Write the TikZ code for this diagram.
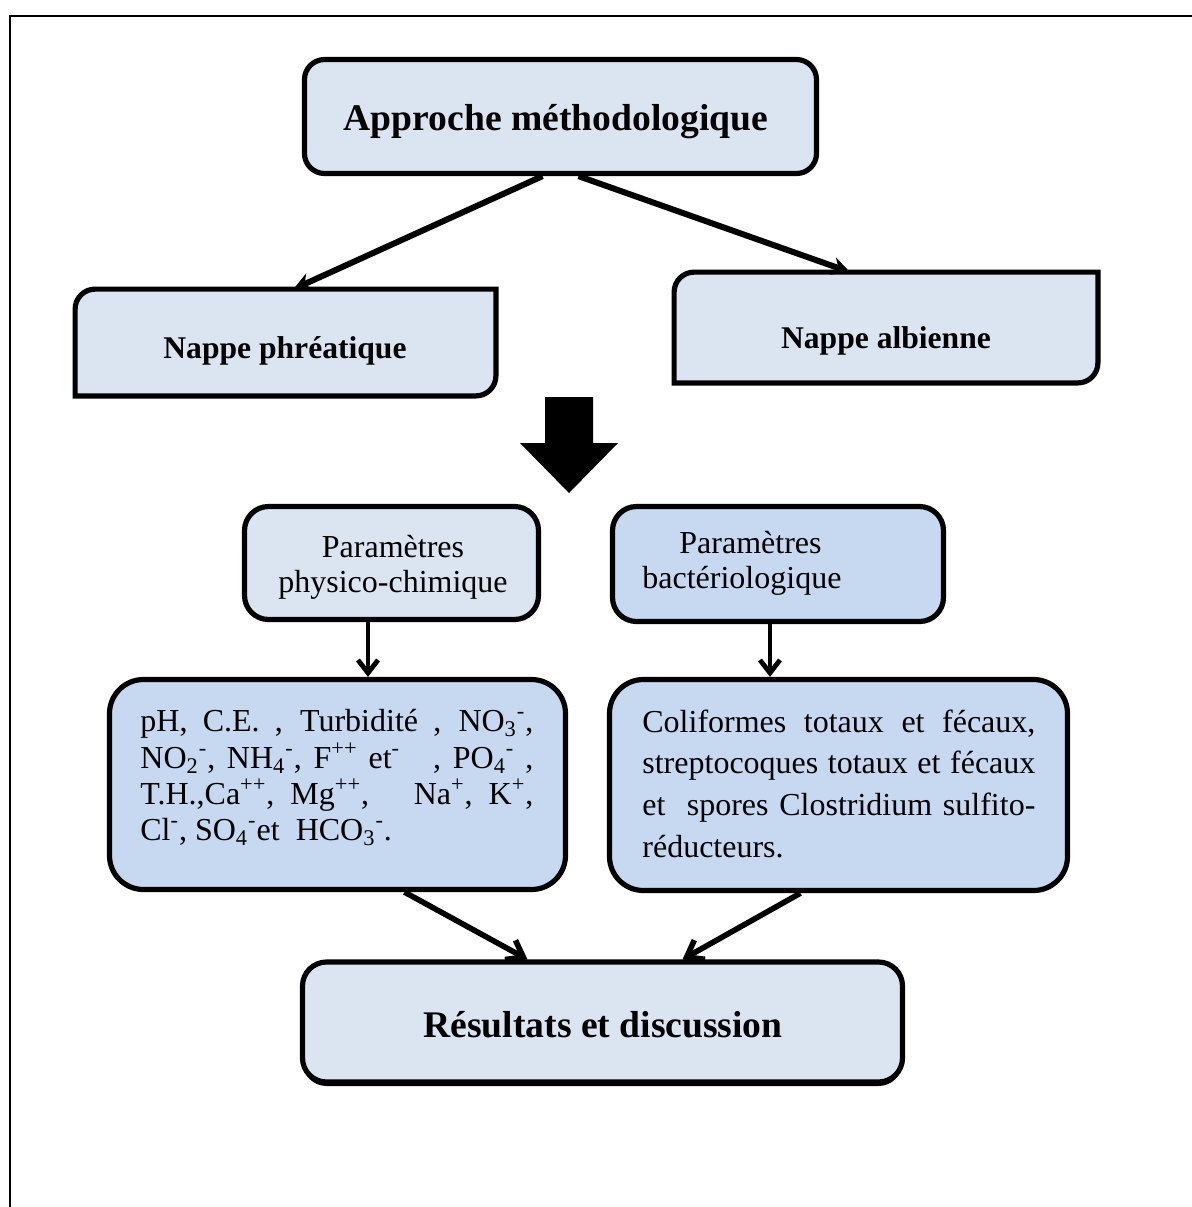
\documentclass[tikz,border=0pt]{standalone}
\usepackage{fontspec}
\setmainfont{Liberation Serif}
\usetikzlibrary{arrows.meta,calc,shadows}
\definecolor{boxlight}{RGB}{219,229,241}
\definecolor{boxdark}{RGB}{198,217,240}
\begin{document}
\begin{tikzpicture}[x=0.5pt,y=-0.5pt,
  roundbox/.style={draw=black, line width=2.6pt, inner sep=0pt, fill=boxlight},
  darkfill/.style={fill=boxdark},
  nappeshape/.style={draw=black, line width=2.6pt, fill=boxlight},
  boldtitle/.style={font=\bfseries\fontsize{18.8}{22}\selectfont, inner sep=0pt},
  nappetext/.style={font=\bfseries\fontsize{15.8}{19}\selectfont, inner sep=0pt},
  paramtext/.style={font=\fontsize{16}{19}\selectfont, inner sep=0pt},
  linetext/.style={font=\fontsize{16}{19}\selectfont, inner sep=0pt, anchor=base west},
  bigarrow/.style={-{Stealth[length=9pt,width=9pt]}, line width=3pt},
  smallarrow/.style={-{Straight Barb[length=6.5pt,width=10pt]}, line width=2.4pt},
  midarrow/.style={-{Straight Barb[length=7.5pt,width=11pt]}, line width=2.8pt}
]
\useasboundingbox (0,0) rectangle (1192,1207);
% frame
\draw[line width=1pt] (10,1207) -- (10,16) -- (1192,16);

% top box
\node[roundbox, rounded corners=10pt, minimum width=256pt, minimum height=57pt] (ap) at (560.5,116.5) {};
\node[boldtitle, anchor=base] (apt) at (556,130) {Approche méthodologique};

% nappe phreatique
\node[inner sep=0pt, minimum width=210pt, minimum height=53pt] (np) at (285.5,342.5) {};
\path[nappeshape] (np.south west) -- ($(np.north west)+(0,20)$) arc[start angle=180,end angle=270,radius=20] -- (np.north east) -- ($(np.south east)+(0,-20)$) arc[start angle=0,end angle=90,radius=20] -- cycle;
\node[nappetext, anchor=base] (npt) at (285,358) {Nappe phréatique};

% nappe albienne
\node[inner sep=0pt, minimum width=211.5pt, minimum height=55pt] (na) at (886,327.5) {};
\path[nappeshape] (na.south west) -- ($(na.north west)+(0,20)$) arc[start angle=180,end angle=270,radius=20] -- (na.north east) -- ($(na.south east)+(0,-20)$) arc[start angle=0,end angle=90,radius=20] -- cycle;
\node[nappetext, anchor=base] (nat) at (886,348) {Nappe albienne};

\draw[bigarrow] ($(ap.south)+(-18,0)$) -- ($(np.north)+(8,0)$);
\draw[bigarrow] ($(ap.south)+(18,0)$) -- ($(na.north)+(-36,0)$);

% block arrow
\fill[black] (545,397) -- (593,397) -- (593,443) -- (618,443) -- (569,493) -- (520,443) -- (545,443) -- cycle;

% parameter boxes
\node[roundbox, rounded corners=12pt, minimum width=147pt, minimum height=56.5pt] (pc) at (391.5,563) {};
\node[paramtext, anchor=base] (pc1) at (393,557) {Paramètres};
\node[paramtext, anchor=base] (pc2) at (393,592) {physico-chimique};

\node[roundbox, darkfill, rounded corners=12pt, minimum width=165.5pt, minimum height=57.5pt] (bc) at (778,564) {};
\node[paramtext, anchor=base west] (bc1) at (679,553) {Paramètres};
\node[paramtext, anchor=base west] (bc2) at (642,588) {bactériologique};

% content boxes
\node[roundbox, darkfill, rounded corners=17pt, minimum width=228pt, minimum height=105pt] (lc) at (337.5,784.5) {};
\node[linetext] (l1) at (140,731) {\hbox to 196.5pt{pH, C.E. , Turbidité , NO\textsubscript{3}\textsuperscript{-},}};
\node[linetext] (l2) at (140,768) {\hbox to 196.5pt{NO\textsubscript{2}\textsuperscript{-}, NH\textsubscript{4}\textsuperscript{-}, F\textsuperscript{++} et\textsuperscript{-}\ \ \ , PO\textsubscript{4}\textsuperscript{-}\ ,}};
\node[linetext] (l3) at (140,804) {\hbox to 196.5pt{T.H.,Ca\textsuperscript{++}, Mg\textsuperscript{++}, \ \ Na\textsuperscript{+}, K\textsuperscript{+},}};
\node[linetext] (l4) at (140,840) {Cl\textsuperscript{-}, SO\textsubscript{4}\textsuperscript{-}et\ \ HCO\textsubscript{3}\textsuperscript{-}.};

\node[roundbox, darkfill, rounded corners=17pt, minimum width=229pt, minimum height=105.5pt] (rc) at (838.5,785) {};
\node[linetext] (r1) at (642,732) {\hbox to 196.5pt{Coliformes totaux et fécaux,}};
\node[linetext] (r2) at (642,773) {\hbox to 196.5pt{streptocoques totaux et fécaux}};
\node[linetext] (r3) at (642,815) {\hbox to 196.5pt{et\ \ spores Clostridium sulfito-}};
\node[linetext] (r4) at (642,857) {réducteurs.};

\coordinate (s1) at ($(pc.south)+(-23.5,0)$);
\coordinate (s2) at ($(bc.south)+(-8,0)$);
\draw[smallarrow] (s1) -- (s1 |- lc.north);
\draw[smallarrow] (s2) -- (s2 |- rc.north);

% result box
\node[roundbox, rounded corners=12pt, minimum width=300pt, minimum height=60pt,
  drop shadow={shadow xshift=0pt, shadow yshift=-2pt, fill=black, opacity=1}] (rd) at (602.5,1022) {};
\node[boldtitle, anchor=base] (rdt) at (603,1037) {Résultats et discussion};

\draw[midarrow] ($(lc.south)+(67,0)$) -- ($(rd.north)+(-75,0)$);
\draw[midarrow] ($(rc.south)+(-38,0)$) -- ($(rd.north)+(80,0)$);
\end{tikzpicture}
\end{document}
